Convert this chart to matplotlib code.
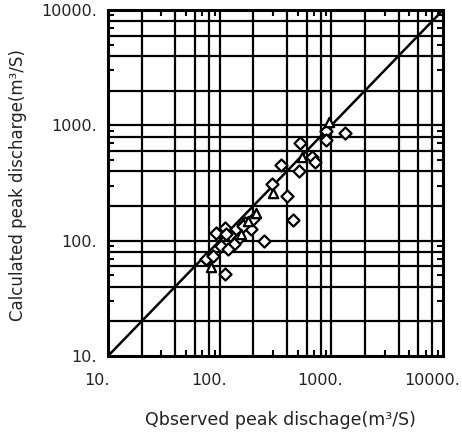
import matplotlib
matplotlib.use("Agg")
import matplotlib.pyplot as plt
import matplotlib.transforms as mtransforms
from matplotlib.ticker import FixedLocator, FuncFormatter, NullFormatter

obs_diamond = [1330, 896, 896, 522, 670, 713, 352, 511, 292, 398, 451,
               170, 112, 93, 247, 103, 75.5, 112, 192, 141, 127, 87, 200,
               147, 163, 135, 119, 115]
calc_diamond = [851, 887, 741, 697, 527, 477, 449, 398, 313, 246, 152,
                141, 130, 117, 100, 90.5, 69.7, 51.6, 127, 127, 110, 74.1, 155,
                104, 133, 94.2, 85.2, 115]

obs_triangle = [953, 544, 298, 213, 181, 84, 156]
calc_triangle = [1062, 527, 261, 175, 149, 59.4, 115]

decades = [10, 100, 1000, 10000]
grid_subs = [2, 4, 6, 8]
tick_subs = [3, 5, 7, 9]

grid_vals = [s * d for d in decades[:-1] for s in grid_subs]
tick_vals = [s * d for d in decades[:-1] for s in tick_subs]

TXT = "#222222"

fig = plt.figure(figsize=(4.62, 4.33), dpi=100)
ax = fig.add_axes([108 / 462, 1 - 356 / 433, 335 / 462, 346 / 433])

ax.set_xscale("log")
ax.set_yscale("log")
ax.set_xlim(10, 10000)
ax.set_ylim(10, 10000)

# grid lines (2, 4, 6, 8 and decades)
for v in grid_vals + decades[1:-1]:
    ax.axvline(v, color="black", lw=1.6, zorder=1)
    ax.axhline(v, color="black", lw=1.6, zorder=1)

# 1:1 line
ax.plot([10, 10000], [10, 10000], color="black", lw=1.8, zorder=2)

ax.scatter(obs_diamond, calc_diamond, marker="D", s=38, facecolors="white",
           edgecolors="black", linewidths=1.6, zorder=3)
ax.scatter(obs_triangle, calc_triangle, marker="^", s=45, facecolors="white",
           edgecolors="black", linewidths=1.6, zorder=3)

for sp in ax.spines.values():
    sp.set_linewidth(2.2)

fmt = FuncFormatter(lambda v, p: f"{int(round(v))}.")
for axis in (ax.xaxis, ax.yaxis):
    axis.set_major_locator(FixedLocator(decades))
    axis.set_major_formatter(fmt)
    axis.set_minor_locator(FixedLocator(tick_vals))
    axis.set_minor_formatter(NullFormatter())

ax.tick_params(which="major", length=0, labelsize=11.5, colors=TXT)
ax.tick_params(axis="x", which="major", pad=12)
ax.tick_params(axis="y", which="major", pad=8)
ax.tick_params(which="minor", direction="in", length=4, width=1.5,
               top=True, right=True)

# x tick labels sit a little left of their ticks in the original
shift = mtransforms.ScaledTranslation(-11 / 100, 0, fig.dpi_scale_trans)
for lbl in ax.get_xticklabels():
    lbl.set_transform(lbl.get_transform() + shift)

fig.text(280 / 462, 1 - 420 / 433, "Qbserved peak dischage(m³/S)",
         fontsize=12.5, color=TXT, ha="center", va="center")
fig.text(18 / 462, 1 - 185 / 433, "Calculated peak discharge(m³/S)",
         fontsize=12, color=TXT, ha="center", va="center", rotation=90)

fig.savefig("out.png", dpi=100)
